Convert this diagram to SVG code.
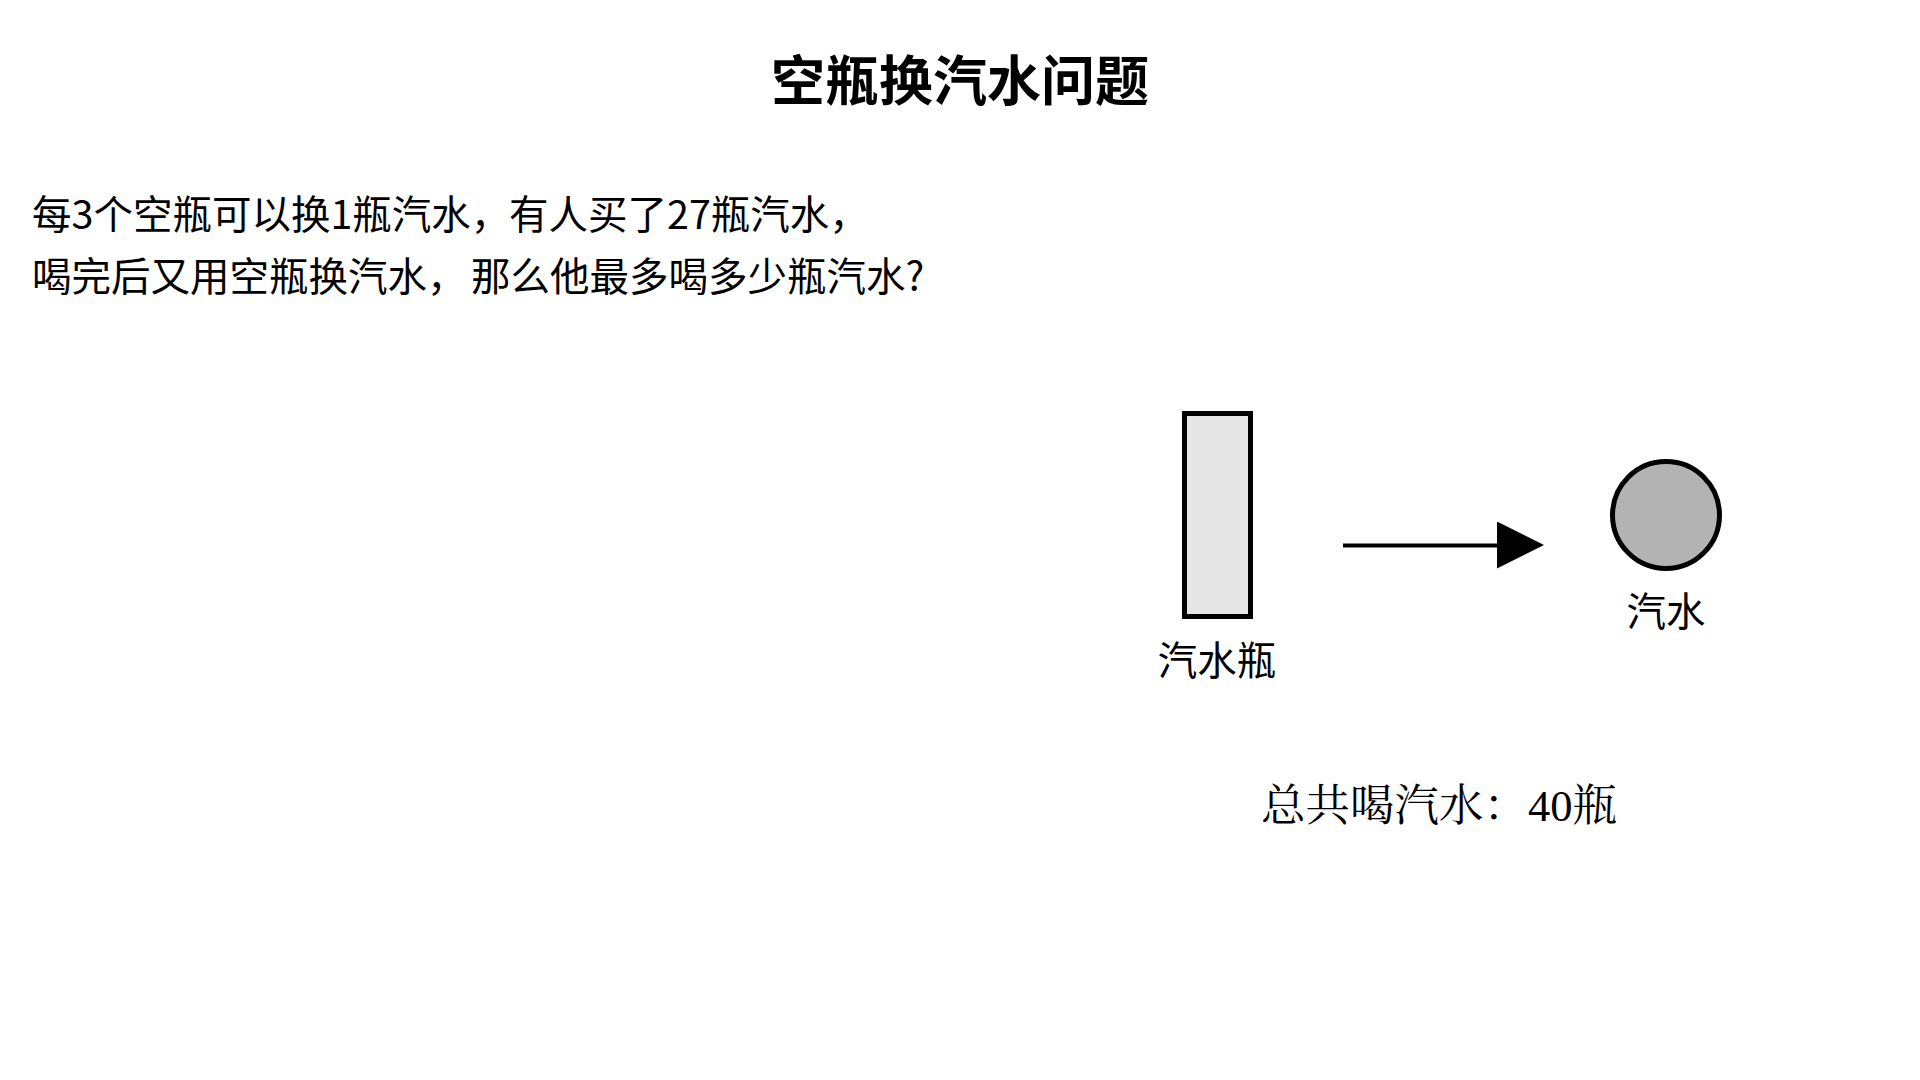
<svg xmlns="http://www.w3.org/2000/svg" width="1920" height="1080" viewBox="0 0 1920 1080">
  <style>
    .sans { font-family: "Noto Sans CJK SC", "Noto Sans", sans-serif; fill: #000; }
    .title { font-size: 54px; font-weight: bold; }
    .q { font-size: 39.5px; }
    .label { font-size: 39.5px; text-anchor: middle; }
    .serif { font-family: "Liberation Serif", "Noto Serif CJK SC", "Noto Sans CJK SC", serif; font-size: 44.5px; fill: #000; }
    .shape { stroke: #000; stroke-width: 5; }
  </style>
  <defs>
    <marker id="arrowhead" markerUnits="userSpaceOnUse" markerWidth="48" markerHeight="48" refX="1" refY="24" orient="auto">
      <polygon points="0,0 47,23.5 0,47" fill="#000"/>
    </marker>
  </defs>
  <rect width="1920" height="1080" fill="#fff"/>
  <g id="title">
    <text class="sans title" x="960" y="101" text-anchor="middle">空瓶换汽水问题</text>
  </g>
  <g id="question">
    <text class="sans q" y="229"><tspan x="32">每3个空瓶可以换1瓶汽水，</tspan><tspan x="509">有人买了27瓶汽水，</tspan></text>
    <text class="sans q" y="291"><tspan x="32">喝完后又用空瓶换汽水，</tspan><tspan x="471">那么他最多喝多少瓶汽水?</tspan></text>
  </g>
  <g id="bottle">
    <rect class="shape" x="1184.5" y="413.5" width="66" height="203" fill="#e6e6e6"/>
    <text class="sans label" x="1217" y="675">汽水瓶</text>
  </g>
  <g id="soda">
    <circle class="shape" cx="1666" cy="515" r="53.5" fill="#b3b3b3"/>
    <text class="sans label" x="1666" y="626">汽水</text>
  </g>
  <g id="connectors">
    <line x1="1343" y1="545.5" x2="1498" y2="545.5" stroke="#000" stroke-width="4" marker-end="url(#arrowhead)"/>
  </g>
  <g id="total">
    <text class="serif" x="1261" y="821">总共喝汽水：40瓶</text>
  </g>
</svg>
